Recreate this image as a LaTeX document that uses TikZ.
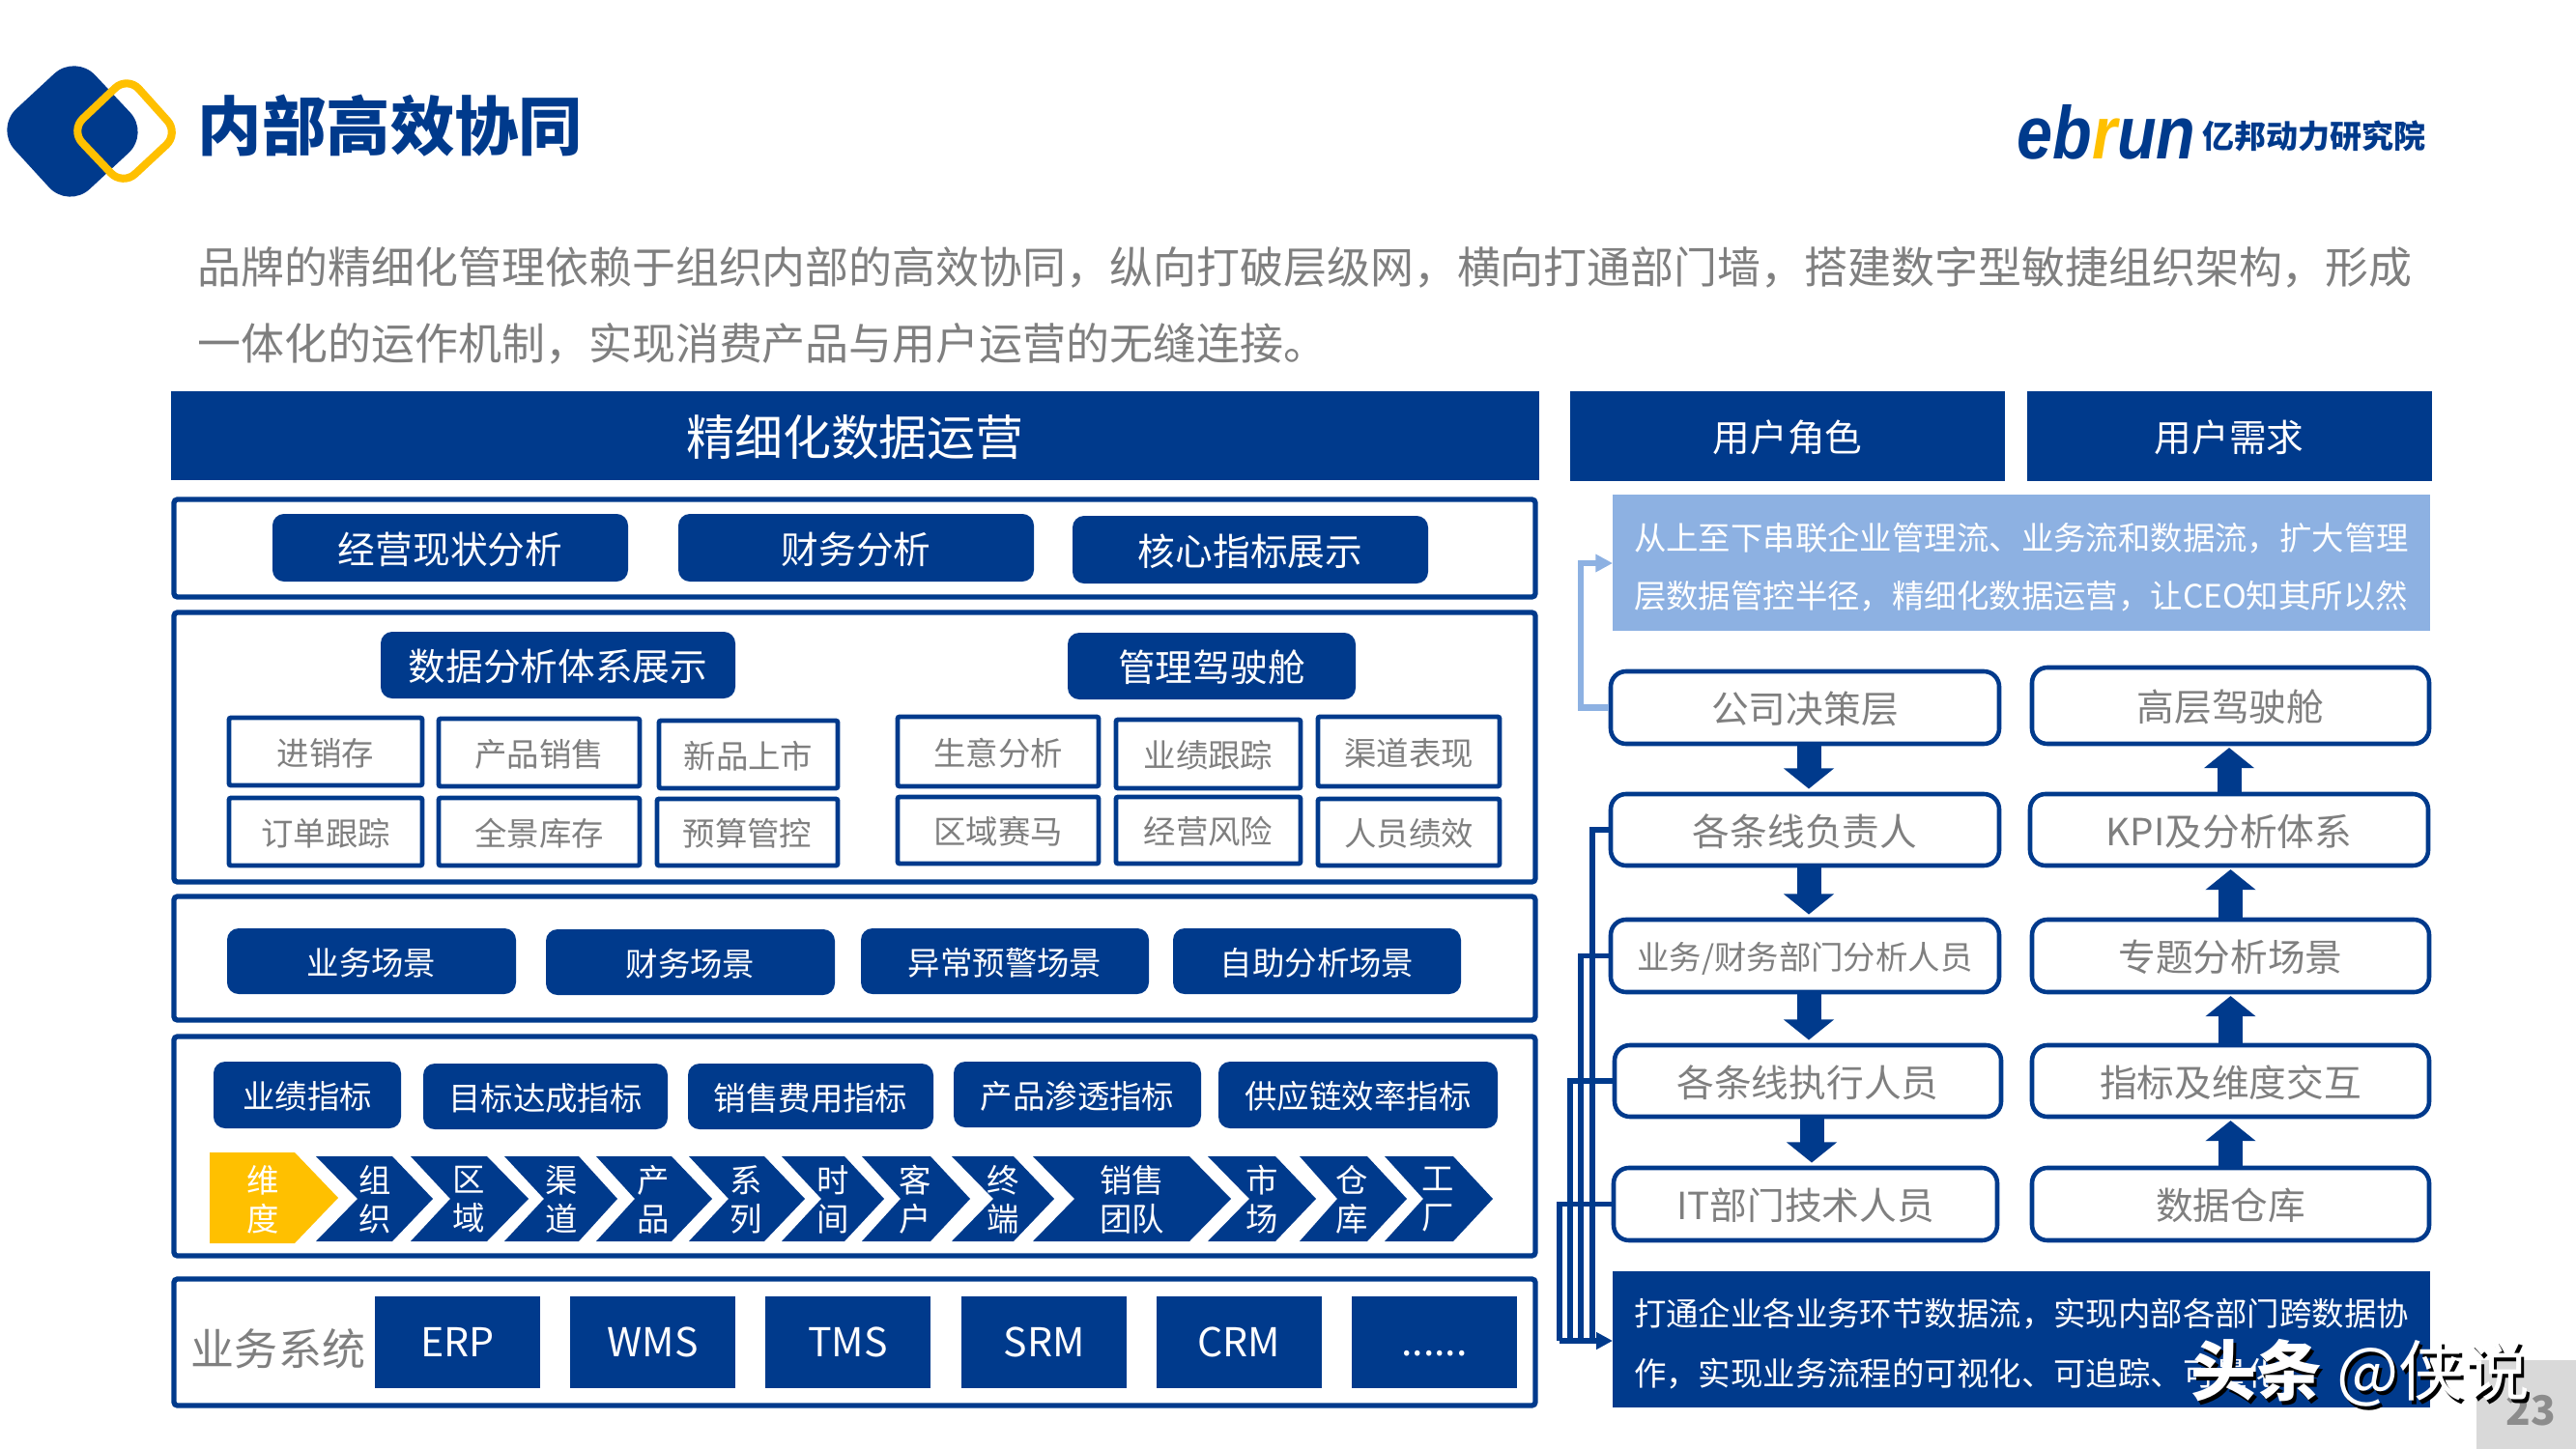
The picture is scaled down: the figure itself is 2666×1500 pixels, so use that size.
\documentclass[tikz,border=0pt]{standalone}
\usepackage{xcolor}
\usepackage{fontspec}
\setmainfont{Noto Sans CJK SC}
\newfontfamily\logofont{Liberation Sans}
\usetikzlibrary{arrows.meta,positioning,calc}
\definecolor{navyacc}{HTML}{003A8C}
\definecolor{liteacc}{HTML}{8DB1E2}
\definecolor{goldacc}{HTML}{FFC000}
\definecolor{greytxt}{HTML}{7F7F7F}
\tikzset{
  wh/.style 2 args={minimum width=(#1)*0.01cm,minimum height=(#2)*0.01cm},
  small/.style={text height=9pt,text depth=1pt,font=\fontsize{9.5}{11}\selectfont},
  large/.style={text height=10.5pt,text depth=1.4pt,font=\fontsize{11}{13}\selectfont},
  frame/.style={draw=navyacc,line width=1.5pt,rounded corners=1pt},
  banner/.style={fill=navyacc,text=white,inner sep=0pt,large},
  pill/.style={fill=navyacc,text=white,inner sep=0pt,rounded corners=3.4pt,small},
  pillbig/.style={pill,large},
  cell/.style={draw=navyacc,text=greytxt,line width=1.4pt,inner sep=0pt,rounded corners=0.6pt,small},
  role/.style={draw=navyacc,text=greytxt,line width=1.3pt,inner sep=0pt,rounded corners=4.5pt,large},
  chevtxt/.style={text=white,align=center,inner sep=0pt,font=\fontsize{9.5}{11.4}\selectfont},
  sysbox/.style={fill=navyacc,text=white,inner sep=0pt,font=\fontsize{11.7}{13}\selectfont},
  notetxt/.style={text=white,align=left,inner sep=0pt},
  fatarr/.style={draw=navyacc,line width=7.1pt,-{Triangle[width=14.5pt,length=6pt]}},
  busline/.style={draw=navyacc,line width=1.5pt},
}
\begin{document}
\begin{tikzpicture}[x=0.01cm,y=-0.01cm]
  \useasboundingbox (0,0) rectangle (2666,1500);
  % heading
  \fill[navyacc,rounded corners=8.5pt] (78,56)--(155,138)--(71,216)--(-5,133)--cycle;
  \draw[goldacc,line width=2.3pt,rounded corners=5pt] (132,79)--(185,138)--(127,192)--(73,135)--cycle;
  \node[text=navyacc,inner sep=0pt,font=\fontsize{18.9}{22}\selectfont\bfseries] (title) at (404,130) {内部高效协同};
  \node[inner sep=0pt,xscale=0.86,font=\logofont\fontsize{22}{24}\selectfont\bfseries\itshape,text=navyacc] (ebrun) at (2180,137) {eb\textcolor{goldacc}{r}un};
  \node[text=navyacc,inner sep=0pt,font=\fontsize{9.4}{11}\selectfont\bfseries] (ebrunname) at (2395,141) {亿邦动力研究院};
  \node[text=greytxt,align=left,anchor=north west,inner sep=0pt,font=\fontsize{12.78}{22.5}\selectfont] (intro) at (204,255)
    {品牌的精细化管理依赖于组织内部的高效协同，纵向打破层级网，横向打通部门墙，搭建数字型敏捷组织架构，形成\\一体化的运作机制，实现消费产品与用户运营的无缝连接。};
  % left column
  \node[banner,wh={1416}{92},text height=13.4pt,text depth=1.8pt,font=\fontsize{14.2}{16}\selectfont] (opsbar) at (885,451) {精细化数据运营};
  \draw[frame] (180,517) rectangle (1589,618);
  \draw[frame] (180,634) rectangle (1589,913);
  \draw[frame] (180,928) rectangle (1589,1056);
  \draw[frame] (180,1073) rectangle (1589,1300);
  \draw[frame] (180,1324) rectangle (1589,1455);
  \foreach \na/\xa/\ya/\xb/\yb/\lab in {status/282/532/650/602/经营现状分析,finance/702/532/1070/602/财务分析,core/1110/534/1478/604/核心指标展示,
      system/394/654/761/723/数据分析体系展示,cockpit/1105/655/1403/724/管理驾驶舱}
    \node[pillbig,wh={\xb-\xa}{\yb-\ya}] (\na) at ({(\xa+\xb)/2},{(\ya+\yb)/2}) {\lab};
  \foreach \na/\xa/\ya/\xb/\yb/\lab in {scenea/235/961/534/1029/业务场景,sceneb/565/962/864/1030/财务场景,scenec/891/961/1189/1029/异常预警场景,scened/1214/961/1512/1029/自助分析场景,
      metrica/221/1099/415/1168/业绩指标,metricb/438/1101/691/1169/目标达成指标,metricc/712/1101/966/1169/销售费用指标,metricd/987/1099/1243/1167/产品渗透指标,metrice/1261/1099/1550/1168/供应链效率指标}
    \node[pill,wh={\xb-\xa}{\yb-\ya}] (\na) at ({(\xa+\xb)/2},{(\ya+\yb)/2}) {\lab};
  \foreach \na/\xa/\ya/\xb/\yb/\lab in {stock/237/743/437/813/进销存,prodsale/454/744/662/814/产品销售,newprod/682/746/867/816/新品上市,
      order/237/826/437/896/订单跟踪,inventory/454/826/662/896/全景库存,budget/680/827/867/896/预算管控,
      biz/929/742/1137/814/生意分析,perf/1155/745/1346/816/业绩跟踪,channel/1364/742/1552/814/渠道表现,
      region/929/825/1137/894/区域赛马,risk/1155/825/1346/894/经营风险,staff/1364/827/1552/896/人员绩效}
    \node[cell,wh={\xb-\xa}{\yb-\ya}] (\na) at ({(\xa+\xb)/2},{(\ya+\yb)/2}) {\lab};
  % dimension chevrons
  \fill[goldacc] (217,1193)--(305,1193)--(350,1240)--(305,1287)--(217,1287)--cycle;
  \node[chevtxt] (dim) at (272,1242) {维\\度};
  \foreach \na/\l/\n/\t/\p/\a/\b in {cha/327/370/406/448/组/织,chb/425/466/504/547/区/域,chc/522/563/599/639/渠/道,chd/617/657/695/737/产/品,
      che/713/754/791/833/系/列,chf/809/850/874/915/时/间,chg/892/932/963/1004/客/户,chh/985/1028/1049/1091/终/端,
      chi/1069/1112/1231/1274/销售/团队,chj/1250/1293/1320/1362/市/场,chk/1345/1384/1415/1456/仓/库,chl/1433/1473/1504/1545/工/厂}{
    \fill[navyacc] (\l,1197)--(\t,1197)--(\p,1241)--(\t,1285)--(\l,1285)--(\n,1241)--cycle;
    \node[chevtxt] (\na) at ({(\n+\t)/2},1242) {\a\\\b};
  }
  % business systems
  \node[text=greytxt,inner sep=0pt,font=\fontsize{12.8}{15}\selectfont] (systitle) at (288,1396) {业务系统};
  \foreach \na/\xa/\xb/\lab in {erp/388/559/ERP,wms/590/761/WMS,tms/792/963/TMS,srm/995/1166/SRM,crm/1197/1368/CRM,more/1399/1570/{\vphantom{E}......}}
    \node[sysbox,wh={\xb-\xa}{95}] (\na) at ({(\xa+\xb)/2},1389) {\lab};
  % right column
  \node[banner,wh={450}{93}] (rolebar) at (1850,451) {用户角色};
  \node[banner,wh={419}{93}] (needbar) at (2307,451) {用户需求};
  \node[fill=liteacc,inner sep=0pt,wh={846}{141}] (topnote) at (2092,582) {};
  \node[notetxt,font=\fontsize{9.5}{17}\selectfont] (toptext) at (2092,587)
    {从上至下串联企业管理流、业务流和数据流，扩大管理\\层数据管控半径，精细化数据运营，让CEO知其所以然};
  \node[fill=navyacc,inner sep=0pt,wh={846}{141}] (botnote) at (2092,1386) {};
  \node[notetxt,font=\fontsize{9.5}{17.5}\selectfont] (bottext) at (2092,1391)
    {打通企业各业务环节数据流，实现内部各部门跨数据协\\作，实现业务流程的可视化、可追踪、可量化};
  \foreach \na/\xa/\ya/\xb/\yb/\lab in {decide/1667/695/2069/770/公司决策层,lead/1667/822/2069/896/各条线负责人,exec/1671/1082/2071/1156/各条线执行人员,
      itstaff/1670/1209/2067/1284/IT部门技术人员,topview/2103/691/2514/770/高层驾驶舱,kpi/2101/822/2513/896/KPI及分析体系,
      topic/2103/952/2514/1027/专题分析场景,cross/2103/1082/2514/1156/指标及维度交互,store/2103/1209/2514/1284/数据仓库}
    \node[role,wh={\xb-\xa}{\yb-\ya}] (\na) at ({(\xa+\xb)/2},{(\ya+\yb)/2}) {\lab};
  \node[role,wh={402}{75},small] (analyst) at (1868,989.5) {业务/财务部门分析人员};
  % flow arrows
  \foreach \a/\b in {decide/lead,lead/analyst,analyst/exec,exec/itstaff}
    \draw[fatarr,shorten >=0.9pt] ($(\a.south)+(4,0)$) -- ($(\a.south |- \b.north)+(4,0)$);
  \foreach \a/\b in {store/cross,cross/topic,topic/kpi,kpi/topview}
    \draw[fatarr,shorten >=0.5pt] (\a.north) -- (\a.north |- \b.south);
  \coordinate (litebend) at (1636,583);
  \coordinate (litein) at (1669,583);
  \draw[liteacc,line width=1.8pt,-{Triangle[width=5pt,length=5pt]}] (decide.west) -| (litebend) -- (litein);
  \coordinate (busin) at (1669,1388);
  \foreach \a/\x in {lead/1648,analyst/1636,exec/1625,itstaff/1614}{
    \coordinate (bus\a) at (\x,1388);
    \draw[busline] (\a.west) -| (bus\a);
  }
  \draw[busline,-{Triangle[width=4.8pt,length=4.8pt]}] (busitstaff) -- (busin);
  % corner stamp
  \fill[black!15] (2563,1408) rectangle (2666,1500);
  \node[text=black!45,inner sep=0pt,font=\fontsize{12}{14}\selectfont\bfseries] (pageno) at (2619,1460) {23};
  \node[text=black,inner sep=0pt,font=\fontsize{19.3}{22}\selectfont] (markshade) at (2446,1425) {\textbf{头条} @侠说};
  \node[text=white,inner sep=0pt,font=\fontsize{19.3}{22}\selectfont] (mark) at (2443,1421) {\textbf{头条} @侠说};
\end{tikzpicture}
\end{document}
